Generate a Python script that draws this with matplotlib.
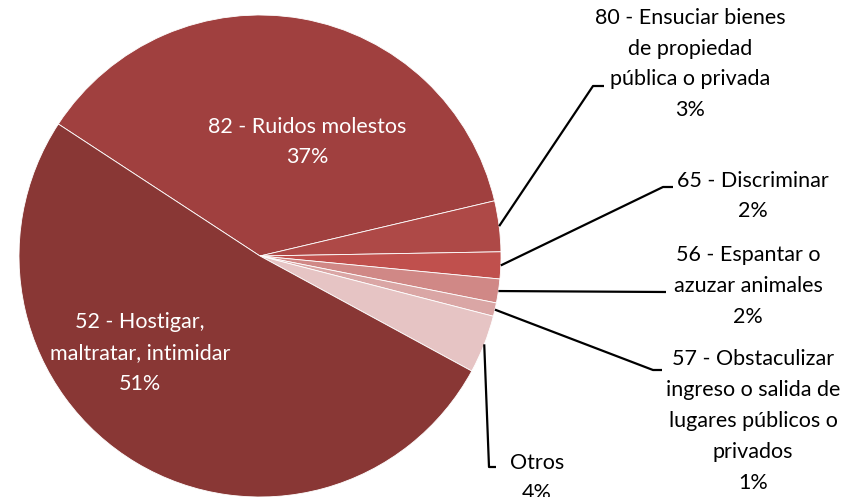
import numpy as np
from matplotlib import pyplot as plt

# datos de la torta (sentido horario desde el limite superior izquierdo)
codigos = ['82 - Ruidos molestos', '80 - Ensuciar bienes\nde propiedad\npública o privada',
           '65 - Discriminar', '56 - Espantar o\nazuzar animales',
           '57 - Obstaculizar\ningreso o salida de\nlugares públicos o\nprivados',
           'Otros', '52 - Hostigar,\nmaltratar, intimidar']
valores = [37.1, 3.4, 1.8, 1.6, 0.9, 3.9, 51.3]
colores = ['#A0403F', '#AE4947', '#C0504D', '#D08886', '#DAA6A5', '#E6C4C4', '#893735']

W, H = 849, 497
fig = plt.figure(figsize=(W/100, H/100), dpi=100)
ax = fig.add_axes([0, 0, 1, 1])

cx, cy, R = 260, H-256, 241
wedges, _ = ax.pie(valores, colors=colores, startangle=146.8, counterclock=False,
                   center=(cx, cy), radius=R, frame=True,
                   wedgeprops=dict(edgecolor='white', linewidth=0.6))
ax.set_xlim(0, W)
ax.set_ylim(0, H)
ax.set_aspect('equal')
ax.axis('off')

fuente = 'Lato'
fs = 15.5
ls = 1.68

def y(v):
    return H - v

def etiqueta(i):
    return codigos[i] + '\n' + '%d%%' % round(valores[i])

# etiquetas interiores
ax.text(307, y(142), etiqueta(0), color='white', ha='center', va='center',
        fontsize=fs, family=fuente, linespacing=ls)
ax.text(140, y(353), etiqueta(6), color='white', ha='center', va='center',
        fontsize=fs, family=fuente, linespacing=ls)

# etiquetas exteriores con lineas guia: (codo, fin, texto x, texto y)
guias = {1: ((593, 86), (604, 86), 690, 64),
         2: ((663, 187), (673, 187), 753, 196),
         3: ((666, 292), (666, 292), 748, 286),
         4: ((653, 370), (662, 370), 753, 421),
         5: ((489, 467), (496, 467), 537, 478)}
for i, (codo, fin, tx, ty) in guias.items():
    w = wedges[i]
    ang = np.deg2rad((w.theta1 + w.theta2) / 2)
    x0 = cx + R*np.cos(ang)
    y0 = cy + R*np.sin(ang)
    ax.plot([x0, codo[0], fin[0]], [y0, y(codo[1]), y(fin[1])], color='black', lw=1.6,
            solid_capstyle='butt', clip_on=False)
    ax.text(tx, y(ty), etiqueta(i), color='black', ha='center', va='center',
            fontsize=fs, family=fuente, linespacing=ls)

plt.savefig('out.png', dpi=100)
